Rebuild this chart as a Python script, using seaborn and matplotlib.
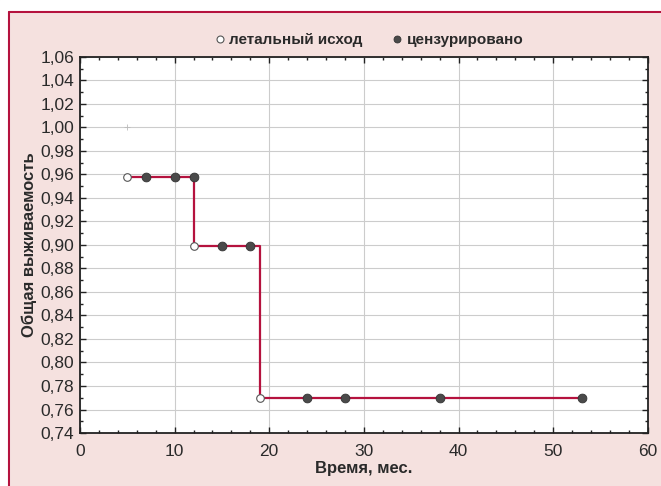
import matplotlib
matplotlib.use("Agg")
import matplotlib.pyplot as plt
import seaborn as sns
from matplotlib.lines import Line2D
from matplotlib.ticker import MultipleLocator, FuncFormatter

# step curve (Kaplan-Meier)
step_time = [5, 12, 12, 19, 19, 53]
step_surv = [0.958, 0.958, 0.899, 0.899, 0.770, 0.770]

# events (deaths)
death_time = [5, 12, 19]
death_surv = [0.958, 0.899, 0.770]

# censored observations
cens_time = [7, 10, 12, 15, 18, 24, 28, 38, 53]
cens_surv = [0.958, 0.958, 0.958, 0.899, 0.899, 0.770, 0.770, 0.770, 0.770]

bg = "#f5e1df"
line_col = "#b5123e"
txt = "#2a2a2a"

sns.set_style("ticks")
plt.rcParams["font.family"] = ["Liberation Sans", "DejaVu Sans"]

fig = plt.figure(figsize=(6.61, 4.86), dpi=100, facecolor=bg)
ax = fig.add_axes([0.121, 0.109, 0.859, 0.774])

sns.lineplot(x=step_time, y=step_surv, ax=ax, color=line_col, lw=1.6,
             sort=False, estimator=None, zorder=2)
ax.plot([5], [1.0], marker="+", ms=4, color="#bbbbbb", mew=0.6, ls="none")
sns.scatterplot(x=cens_time, y=cens_surv, ax=ax, color="#4a4a4a", s=40,
                edgecolor="#333333", linewidth=0.6, zorder=3)
sns.scatterplot(x=death_time, y=death_surv, ax=ax, color="white", s=30,
                edgecolor="#555555", linewidth=0.8, zorder=3)

ax.set_xlim(0, 60)
ax.set_ylim(0.74, 1.06)
ax.xaxis.set_major_locator(MultipleLocator(10))
ax.xaxis.set_minor_locator(MultipleLocator(2))
ax.yaxis.set_major_locator(MultipleLocator(0.02))
ax.yaxis.set_minor_locator(MultipleLocator(0.01))
ax.yaxis.set_major_formatter(FuncFormatter(lambda v, p: f"{v:.2f}".replace(".", ",")))
ax.grid(True, which="major", color="#cccccc", lw=0.8)
ax.set_axisbelow(True)
ax.tick_params(which="both", direction="in", top=True, right=True,
               color="#222222", width=1.0)
ax.tick_params(which="major", length=4, labelsize=12.5)
ax.tick_params(axis="x", which="major", pad=8)
ax.tick_params(axis="y", which="major", pad=4)
ax.tick_params(which="minor", length=2.5)
for s in ax.spines.values():
    s.set_linewidth(1.3)
    s.set_color("#222222")
for lab in ax.get_xticklabels() + ax.get_yticklabels():
    lab.set_color(txt)

ax.set_xlabel("Время, мес.", fontsize=12, fontweight="bold", color=txt, labelpad=1)
ax.set_ylabel("Общая выживаемость", fontsize=12, fontweight="bold", color=txt, labelpad=3)

handles = [
    Line2D([], [], marker="o", ls="none", mfc="white", mec="#555555", ms=5, mew=0.8),
    Line2D([], [], marker="o", ls="none", mfc="#4a4a4a", mec="#333333", ms=5, mew=0.6),
]
fig.legend(handles, ["летальный исход", "цензурировано"], loc="center",
           bbox_to_anchor=(0.556, 0.918), ncol=2, frameon=False,
           handletextpad=0.1, columnspacing=1.8, handlelength=1.0,
           prop={"weight": "bold", "size": 11}, labelcolor=txt)

# border on left and top of figure
fig.add_artist(Line2D([0.0136, 0.0136], [0, 0.975], transform=fig.transFigure,
                      color=line_col, lw=1.5))
fig.add_artist(Line2D([0.0136, 1.0], [0.975, 0.975], transform=fig.transFigure,
                      color=line_col, lw=1.5))
fig.patches.append(plt.Rectangle((0, 0.975), 1, 0.025, transform=fig.transFigure,
                                 color="white", zorder=-1))
fig.patches.append(plt.Rectangle((0, 0), 0.0136, 1, transform=fig.transFigure,
                                 color="white", zorder=-1))

fig.savefig("out.png", dpi=100, facecolor=bg)
